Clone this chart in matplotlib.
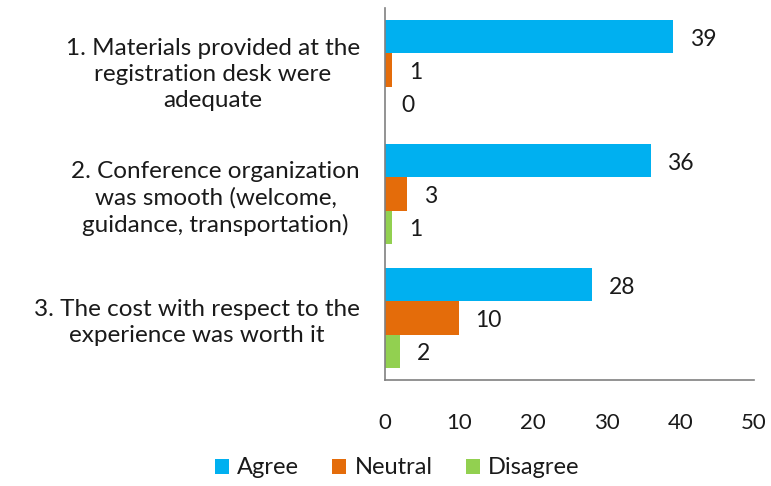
import matplotlib.pyplot as plt
import numpy as np

plt.rcParams['font.family'] = ['Lato', 'DejaVu Sans']

questions = [
    "1. Materials provided at the\nregistration desk were\nadequate",
    "2. Conference organization\nwas smooth (welcome,\nguidance, transportation)",
    "3. The cost with respect to the\nexperience was worth it",
]
series_names = ["Agree", "Neutral", "Disagree"]
agree = [39, 36, 28]
neutral = [1, 3, 10]
disagree = [0, 1, 2]
colors = ["#00B0F0", "#E46C0A", "#92D050"]

fig = plt.figure(figsize=(7.71, 4.86), dpi=100)
ax = fig.add_axes([0.4994, 0.2181, 0.4787, 0.7654])

y = np.arange(len(questions))
h = 0.8 / 3
for i, (vals, name, c) in enumerate(zip([agree, neutral, disagree], series_names, colors)):
    pos = y - 0.4 + h * (i + 0.5)
    ax.barh(pos, vals, height=h, color=c, label=name)
    for p, v in zip(pos, vals):
        ax.annotate(str(v), (v, p), xytext=(12, -2), textcoords="offset points",
                    va="center", ha="left", fontsize=16.5, color="#1a1a1a")

ax.set_xlim(0, 50)
ax.set_ylim(2.5, -0.5)
ax.set_xticks(range(0, 51, 10))
ax.set_yticks(y)
ax.set_yticklabels(questions, ha="right", multialignment="center", linespacing=1.3)
ax.tick_params(axis="y", length=0, pad=18, labelsize=17.5, labelcolor="#1a1a1a")
ax.tick_params(axis="x", length=0, pad=24, labelsize=16, labelcolor="#1a1a1a")
for s in ["top", "right"]:
    ax.spines[s].set_visible(False)
for s in ["left", "bottom"]:
    ax.spines[s].set_color("#808080")
    ax.spines[s].set_linewidth(1.2)

fig.legend(loc="lower center", bbox_to_anchor=(0.515, -0.028), ncol=3, frameon=False,
           fontsize=17, handlelength=0.6, handleheight=0.6, handletextpad=0.35,
           columnspacing=1.4, labelcolor="#1a1a1a")

fig.savefig("out.png", dpi=100)
